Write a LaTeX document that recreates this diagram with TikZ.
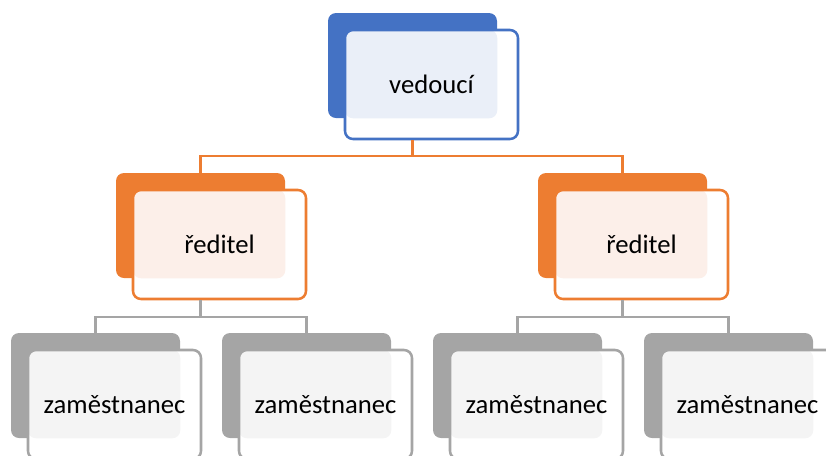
\documentclass[tikz,border=0pt]{standalone}
\usepackage{fontspec}
\setmainfont{Carlito}
\usepackage{tikz}
\usetikzlibrary{positioning}

\definecolor{vblue}{RGB}{68,114,196}
\definecolor{vbluelt}{RGB}{234,239,248}
\definecolor{rorange}{RGB}{237,125,49}
\definecolor{rorangelt}{RGB}{252,239,233}
\definecolor{zgray}{RGB}{165,165,165}
\definecolor{zgraylt}{RGB}{244,244,244}

\tikzset{
  backbox/.style={draw=none, rounded corners=6pt, minimum width=126.75pt, minimum height=78.75pt, inner sep=0pt},
  frontbox/.style={line width=1.9pt, rounded corners=6pt, minimum width=129.75pt, minimum height=81.75pt, inner sep=0pt, font=\fontsize{20}{24}\selectfont},
  orgline/.style={line width=1.7pt}
}

\begin{document}
\begin{tikzpicture}[x=0.75pt,y=0.75pt,yscale=-1,xscale=1]
\useasboundingbox (0,0) rectangle (826,455);

%Shape: Rectangle [vedouci]
\node[backbox, fill=vblue] (vedB) at (412.5,65.5) {};
\fill[white, rounded corners=6pt] (345,30) rectangle (518,139);
\fill[vbluelt, rounded corners=6pt] (345,30) rectangle (vedB.south east);
% Text Node
\node[frontbox, draw=vblue] (ved) at (431.5,84.5) {vedoucí};

%Shape: Rectangle [reditel left]
\node[backbox, fill=rorange] (redAB) at (200.5,225.5) {};
\fill[white, rounded corners=6pt] (133,190) rectangle (306,299);
\fill[rorangelt, rounded corners=6pt] (133,190) rectangle (redAB.south east);
% Text Node
\node[frontbox, draw=rorange] (redA) at (219.5,244.5) {ředitel};

%Shape: Rectangle [reditel right]
\node[backbox, fill=rorange] (redBB) at (622.5,225.5) {};
\fill[white, rounded corners=6pt] (555,190) rectangle (728,299);
\fill[rorangelt, rounded corners=6pt] (555,190) rectangle (redBB.south east);
% Text Node
\node[frontbox, draw=rorange] (redB) at (641.5,244.5) {ředitel};

%Shape: Rectangle [zamestnanec 1]
\node[backbox, fill=zgray] (zamAB) at (95.5,385.5) {};
\fill[white, rounded corners=6pt] (28,350) rectangle (201,459);
\fill[zgraylt, rounded corners=6pt] (28,350) rectangle (zamAB.south east);
% Text Node
\node[frontbox, draw=zgray] (zamA) at (114.5,404.5) {zaměstnanec};

%Shape: Rectangle [zamestnanec 2]
\node[backbox, fill=zgray] (zamBB) at (306.5,385.5) {};
\fill[white, rounded corners=6pt] (239,350) rectangle (412,459);
\fill[zgraylt, rounded corners=6pt] (239,350) rectangle (zamBB.south east);
% Text Node
\node[frontbox, draw=zgray] (zamB) at (325.5,404.5) {zaměstnanec};

%Shape: Rectangle [zamestnanec 3]
\node[backbox, fill=zgray] (zamCB) at (517.5,385.5) {};
\fill[white, rounded corners=6pt] (450,350) rectangle (623,459);
\fill[zgraylt, rounded corners=6pt] (450,350) rectangle (zamCB.south east);
% Text Node
\node[frontbox, draw=zgray] (zamC) at (536.5,404.5) {zaměstnanec};

%Shape: Rectangle [zamestnanec 4]
\node[backbox, fill=zgray] (zamDB) at (728.5,385.5) {};
\fill[white, rounded corners=6pt] (661,350) rectangle (834,459);
\fill[zgraylt, rounded corners=6pt] (661,350) rectangle (zamDB.south east);
% Text Node
\node[frontbox, draw=zgray] (zamD) at (747.5,404.5) {zaměstnanec};

%Straight Lines [vedouci - reditel]
\draw[orgline, rorange] (vedB.south |- ved.south) -- ++(0,16) -| (redAB.north);
\draw[orgline, rorange] (vedB.south |- ved.south) -- ++(0,16) -| (redBB.north);
%Straight Lines [reditel - zamestnanec]
\draw[orgline, zgray] (redAB.south |- redA.south) -- ++(0,17) -| (zamAB.north);
\draw[orgline, zgray] (redAB.south |- redA.south) -- ++(0,17) -| (zamBB.north);
\draw[orgline, zgray] (redBB.south |- redB.south) -- ++(0,17) -| (zamCB.north);
\draw[orgline, zgray] (redBB.south |- redB.south) -- ++(0,17) -| (zamDB.north);

\end{tikzpicture}
\end{document}
